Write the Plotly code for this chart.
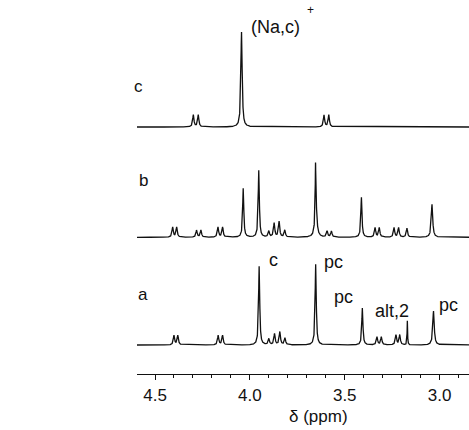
import numpy as np
import plotly.graph_objects as go

# ---- data (chemical shift in ppm, peak height, half-width in ppm) ----
c_shift = [4.298, 4.272, 4.044, 3.609, 3.584]
c_height = [12, 12, 95, 12, 12]
c_width = [0.004, 0.004, 0.004, 0.004, 0.004]

b_shift = [4.407, 4.386, 4.281, 4.258, 4.168, 4.144, 4.035, 3.953,
           3.900, 3.872, 3.846, 3.816, 3.654, 3.652, 3.593, 3.570,
           3.412, 3.340, 3.318, 3.240, 3.216, 3.172, 3.040]
b_height = [10, 10, 7, 7, 10, 10, 49, 67,
            6, 14, 15.5, 7, 44, 34, 6, 6,
            40, 9.5, 9.5, 9.5, 9.5, 9, 33]
b_width = [0.004, 0.004, 0.004, 0.004, 0.004, 0.004, 0.0035, 0.0035,
           0.004, 0.004, 0.004, 0.004, 0.0015, 0.006, 0.004, 0.004,
           0.0035, 0.004, 0.004, 0.004, 0.004, 0.004, 0.0045]

a_shift = [4.400, 4.380, 4.167, 4.144, 3.951, 3.900, 3.870, 3.842,
           3.815, 3.653, 3.407, 3.330, 3.307, 3.230, 3.210, 3.170, 3.032]
a_height = [9.5, 9.5, 9.5, 9.5, 79, 6, 11, 13,
            7, 81, 37, 8, 8, 10, 10, 24, 34]
a_width = [0.004, 0.004, 0.004, 0.004, 0.0035, 0.004, 0.004, 0.004,
           0.004, 0.0035, 0.0035, 0.004, 0.004, 0.004, 0.004, 0.0015, 0.0045]

# vertical offsets of the stacked traces
offsets = {"c": 247, "b": 136.7, "a": 29}

tick_vals = [4.5, 4.0, 3.5, 3.0]
tick_text = ["4.5", "4.0", "3.5", "3.0"]

x_min, x_max = 4.595, 2.845

ppm = np.arange(x_max - 0.005, x_min + 0.005, 0.0004)


def spectrum(shifts, heights, widths):
    y = np.zeros_like(ppm)
    for s, h, w in zip(shifts, heights, widths):
        y += h / (1.0 + ((ppm - s) / w) ** 2)
    return y


fig = go.Figure()
for name, sh, he, wi in [("c", c_shift, c_height, c_width),
                          ("b", b_shift, b_height, b_width),
                          ("a", a_shift, a_height, a_width)]:
    fig.add_trace(go.Scatter(x=ppm, y=spectrum(sh, he, wi) + offsets[name],
                             mode="lines", line=dict(color="#111111", width=1.3),
                             hoverinfo="skip", showlegend=False))

FONT = "Liberation Sans, Arial, sans-serif"
labels = [
    ("c", 4.589, 287.5, 17),
    ("b", 4.563, 193.5, 17),
    ("a", 4.566, 80, 17),
    ("(Na,c)", 3.865, 347, 18),
    ("+", 3.68, 364, 12),
    ("c", 3.877, 114, 18),
    ("pc", 3.558, 112, 18),
    ("pc", 3.505, 77.5, 18),
    ("alt,2", 3.253, 63.5, 18),
    ("pc", 2.953, 69, 18),
]
for txt, x, y, size in labels:
    fig.add_annotation(x=x, y=y, xref="x", yref="y", text=txt, showarrow=False,
                       font=dict(family=FONT, size=size, color="#111111"),
                       xanchor="center", yanchor="middle")

# axis title placed just under the tick labels
fig.add_annotation(x=3.637, y=-42 / 374, xref="x", yref="paper", text="δ (ppm)",
                   showarrow=False, font=dict(family=FONT, size=17, color="#111111"),
                   xanchor="center", yanchor="middle")

fig.update_layout(
    width=469, height=430,
    margin=dict(l=137, r=0, t=0, b=56),
    paper_bgcolor="white", plot_bgcolor="white",
    xaxis=dict(range=[x_min, x_max], showgrid=False, zeroline=False,
               showline=True, linecolor="#111111", linewidth=1.2,
               ticks="outside", ticklen=5, tickwidth=1, tickcolor="#111111",
               tickvals=tick_vals, ticktext=tick_text,
               tickfont=dict(family=FONT, size=17, color="#111111"),
               minor=dict(dtick=0.1, tick0=3.0, ticks="outside", ticklen=3,
                          tickcolor="#111111", showgrid=False)),
    yaxis=dict(range=[0, 374], visible=False, showgrid=False, zeroline=False),
)

fig.write_html("out.html", config={"displayModeBar": False, "staticPlot": True},
               post_script="document.body.style.margin='0';document.body.style.overflow='hidden';")
